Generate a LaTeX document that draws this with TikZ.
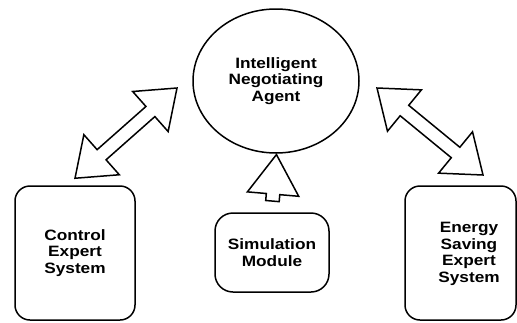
\documentclass[tikz,border=0pt]{standalone}
\usepackage{fontspec}
\newfontfamily\lblfont{Liberation Sans}[FakeStretch=1.15]
\usepackage{tikz}
\usetikzlibrary{shapes}
\usetikzlibrary{calc}
\tikzstyle{lbl}=[font={\lblfont\bfseries\fontsize{15}{16.7}\selectfont}, align=center]
\tikzstyle{outline}=[draw=black, line width=1.5pt, fill=white]
\tikzstyle{box}=[outline, lbl, rectangle, rounded corners=15pt, inner sep=0pt]
\tikzstyle{agentshape}=[outline, lbl, ellipse, inner sep=0pt, minimum width=166pt, minimum height=144pt]
\tikzstyle{dblarrow}=[outline, double arrow, inner sep=6pt, double arrow head extend=20pt, double arrow tip angle=74]
\tikzstyle{uparrowshape}=[outline, single arrow, inner sep=6pt, single arrow head extend=19pt, single arrow tip angle=66]

\begin{document}
\begin{tikzpicture}[x=1pt,y=-1pt]
		\useasboundingbox[fill=white] (0,0) rectangle (517,322);
		\node[agentshape] (agent) at (276,81) {Intelligent\\Negotiating\\Agent};
		\node[box, minimum width=120pt, minimum height=134pt] (ctrl) at (75,253) {Control\\Expert\\System};
		\node[box, minimum width=114pt, minimum height=79pt, rounded corners=18pt] (sim) at (272,252.5) {Simulation\\Module};
		\node[box, minimum width=111pt, minimum height=134pt] (energy) at (460.5,253) {};
		\node[lbl] (energytext) at (469,254) {Energy\\Saving\\Expert\\System};
		\coordinate (la) at ([yshift=7pt]ctrl.north);
		\coordinate (lb) at (177,88);
		\coordinate (ra) at (377,88);
		\coordinate (rb) at (483,175);
		\coordinate (ua) at ([yshift=6pt]sim.north);
		\coordinate (ub) at ([yshift=-6pt]agent.south);
		\path let \p1 = ($(lb)-(la)$) in node[dblarrow, minimum height={veclen(\x1,\y1)}, rotate={atan2(\y1,\x1)}] (larrow) at ($(la)!0.5!(lb)$) {};
		\path let \p1 = ($(rb)-(ra)$) in node[dblarrow, minimum height={veclen(\x1,\y1)}, rotate={atan2(\y1,\x1)}] (rarrow) at ($(ra)!0.5!(rb)$) {};
		\path let \p1 = ($(ub)-(ua)$) in node[uparrowshape, minimum height={veclen(\x1,\y1)}, rotate={atan2(\y1,\x1)}] (uparrow) at ($(ua)!0.5!(ub)$) {};
	\end{tikzpicture}
\end{document}
